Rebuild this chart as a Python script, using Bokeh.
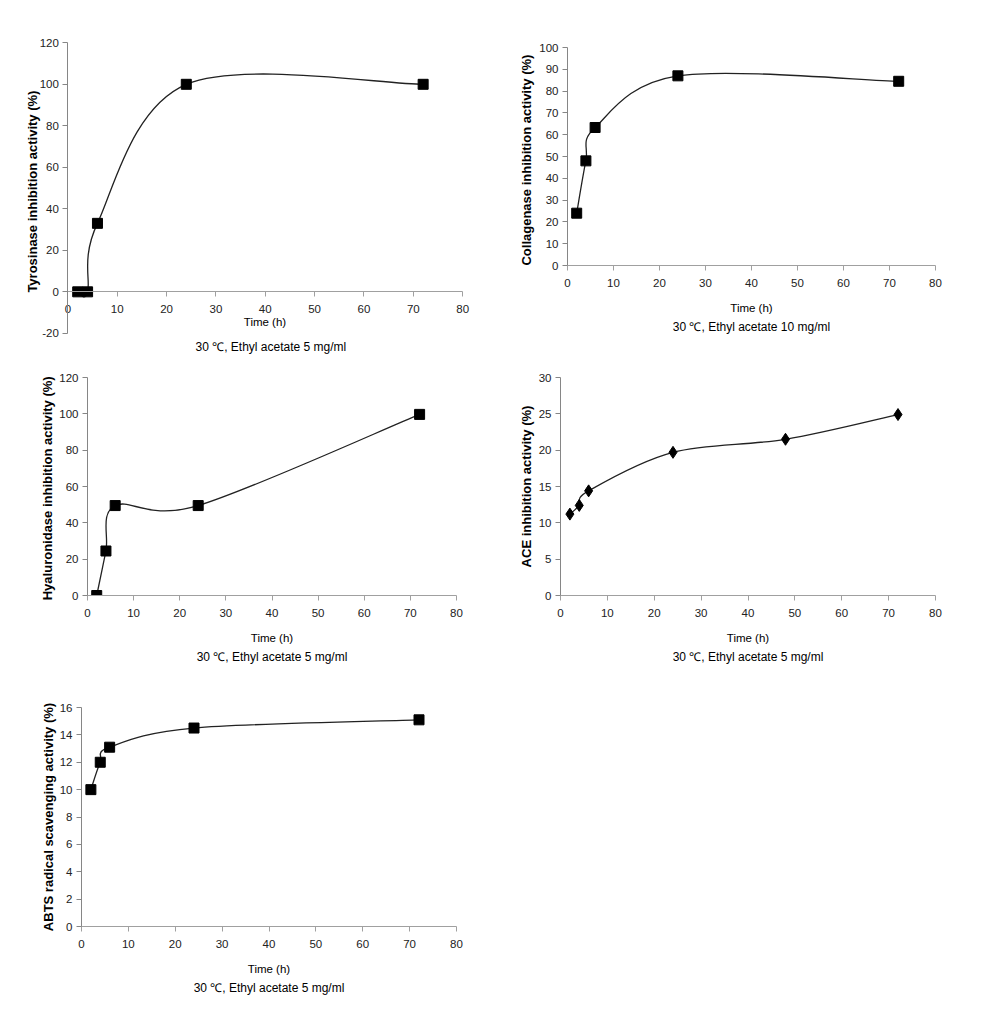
import numpy as np
from bokeh.plotting import figure
from bokeh.layouts import column, row
from bokeh.models import Range1d, FixedTicker, Title
from bokeh.embed import file_html
from bokeh.resources import INLINE

# ---- data ----
time_h = [2, 4, 6, 24, 72]
tyrosinase = [0, 0, 33, 100, 100]
collagenase = [24, 48, 63.3, 87, 84.5]
hyaluronidase = [0, 24.5, 49.5, 49.5, 99.7]
time_ace = [2, 4, 6, 24, 48, 72]
ace = [11.2, 12.4, 14.4, 19.7, 21.5, 24.9]
abts = [10, 12, 13.1, 14.5, 15.1]

x_ticks = [0, 10, 20, 30, 40, 50, 60, 70, 80]
y_ticks_tyr = [-20, 0, 20, 40, 60, 80, 100, 120]
y_ticks_col = [0, 10, 20, 30, 40, 50, 60, 70, 80, 90, 100]
y_ticks_hya = [0, 20, 40, 60, 80, 100, 120]
y_ticks_ace = [0, 5, 10, 15, 20, 25, 30]
y_ticks_abts = [0, 2, 4, 6, 8, 10, 12, 14, 16]

FONT = "Liberation Sans"
X_AXIS_COLOR = "#a0a0a0"
Y_AXIS_COLOR = "#868686"


def smooth_segments(xs, ys, k=1.0 / 6.0):
    """Bezier control points for an Excel-like smoothed line through the data."""
    pts = list(zip(xs, ys))
    n = len(pts)
    seg = dict(x0=[], y0=[], x1=[], y1=[], cx0=[], cy0=[], cx1=[], cy1=[])
    for i in range(n - 1):
        p0 = pts[i - 1] if i > 0 else pts[i]
        p1 = pts[i]
        p2 = pts[i + 1]
        p3 = pts[i + 2] if i + 2 < n else pts[i + 1]
        seg["x0"].append(p1[0]); seg["y0"].append(p1[1])
        seg["x1"].append(p2[0]); seg["y1"].append(p2[1])
        seg["cx0"].append(p1[0] + (p2[0] - p0[0]) * k)
        seg["cy0"].append(p1[1] + (p2[1] - p0[1]) * k)
        seg["cx1"].append(p2[0] - (p3[0] - p1[0]) * k)
        seg["cy1"].append(p2[1] - (p3[1] - p1[1]) * k)
    return seg


def make_panel(w, h, borders, xr, yr, yticks, ylabel, ylabel_standoff, subtitle,
               xs, ys, marker="square", fixed=False, time_standoff=12,
               title_standoff=2, title_offset=None):
    left, right, top, bottom = borders
    p = figure(width=w, height=h, output_backend="svg", toolbar_location=None,
               x_range=Range1d(*xr), y_range=Range1d(*yr),
               min_border_left=left, min_border_right=right,
               min_border_top=top, min_border_bottom=bottom)
    p.outline_line_color = None
    p.grid.visible = False
    p.background_fill_color = "white"
    p.border_fill_color = "white"

    for ax, col in ((p.xaxis[0], X_AXIS_COLOR), (p.yaxis[0], Y_AXIS_COLOR)):
        ax.axis_line_color = col
        ax.major_tick_line_color = col
        ax.minor_tick_line_color = None
        ax.major_tick_in = 0
        ax.major_tick_out = 5
        ax.major_label_text_font = FONT
        ax.major_label_text_font_size = "11.5px"
        ax.major_label_text_color = "#222222"
        ax.axis_label_text_font = FONT
        ax.axis_label_text_color = "black"

    p.xaxis.ticker = FixedTicker(ticks=x_ticks)
    p.xaxis.bounds = (x_ticks[0], x_ticks[-1])
    p.xaxis.major_label_standoff = 8
    p.xaxis.axis_label = "Time (h)"
    p.xaxis.axis_label_text_font_size = "11.5px"
    p.xaxis.axis_label_text_font_style = "normal"
    p.xaxis.axis_label_standoff = time_standoff

    p.yaxis.ticker = FixedTicker(ticks=yticks)
    p.yaxis.bounds = (yticks[0], yticks[-1])
    p.yaxis.major_label_overrides = {t: str(t) for t in yticks if t < 0}
    p.yaxis.major_label_standoff = 4
    p.yaxis.axis_label = ylabel
    p.yaxis.axis_label_text_font_size = "13px"
    p.yaxis.axis_label_text_font_style = "bold"
    p.yaxis.axis_label_standoff = ylabel_standoff

    if fixed:
        # Excel style: the axes cross at the origin inside the plot area
        p.xaxis.fixed_location = 0
        p.yaxis.fixed_location = 0

    if title_offset is None:
        t = Title(text=subtitle, align="center", standoff=title_standoff)
    else:
        t = Title(text=subtitle, align="left", offset=title_offset,
                  standoff=title_standoff)
    t.text_font = FONT
    t.text_font_size = "12px"
    t.text_font_style = "normal"
    t.text_color = "black"
    p.add_layout(t, "below")

    seg = smooth_segments(xs, ys)
    p.bezier(x0=seg["x0"], y0=seg["y0"], x1=seg["x1"], y1=seg["y1"],
             cx0=seg["cx0"], cy0=seg["cy0"], cx1=seg["cx1"], cy1=seg["cy1"],
             line_color="#222222", line_width=1.3)
    if marker == "square":
        p.scatter(xs, ys, marker="square", size=10, fill_color="black",
                  line_color="black")
    else:
        p.scatter(xs, ys, marker="diamond", size=12, fill_color="black",
                  line_color="black")
    return p


p1 = make_panel(500, 355, (18, 28, 34, 18), (-10, 82), (-22, 124), y_ticks_tyr,
                "Tyrosinase  inhibition  activity (%)", -4,
                "30 ℃, Ethyl acetate 5 mg/ml", time_h, tyrosinase,
                fixed=True, time_standoff=0, title_standoff=0, title_offset=177)
p2 = make_panel(497, 355, (67, 62, 47, 90), (0, 80), (0, 100), y_ticks_col,
                "Collagenase  inhibition  activity (%)", 2,
                "30 ℃, Ethyl acetate 10 mg/ml", time_h, collagenase)
p3 = make_panel(500, 325, (87, 44, 22, 85), (0, 80), (0, 120), y_ticks_hya,
                "Hyaluronidase  inhibition activity (%)", 1,
                "30 ℃, Ethyl acetate 5 mg/ml", time_h, hyaluronidase)
p4 = make_panel(497, 325, (60, 62, 22, 85), (0, 80), (0, 30), y_ticks_ace,
                "ACE inhibition activity (%)", 2,
                "30 ℃, Ethyl acetate 5 mg/ml", time_ace, ace, marker="diamond")
p5 = make_panel(500, 325, (81, 44, 27, 79), (0, 80), (0, 16), y_ticks_abts,
                "ABTS radical scavenging activity (%)", 1,
                "30 ℃, Ethyl acetate 5 mg/ml", time_h, abts)

layout = column(row(column(p1), column(p2)),
                row(column(p3), column(p4)),
                row(column(p5)))
open("out.html", "w").write(file_html(layout, INLINE))
